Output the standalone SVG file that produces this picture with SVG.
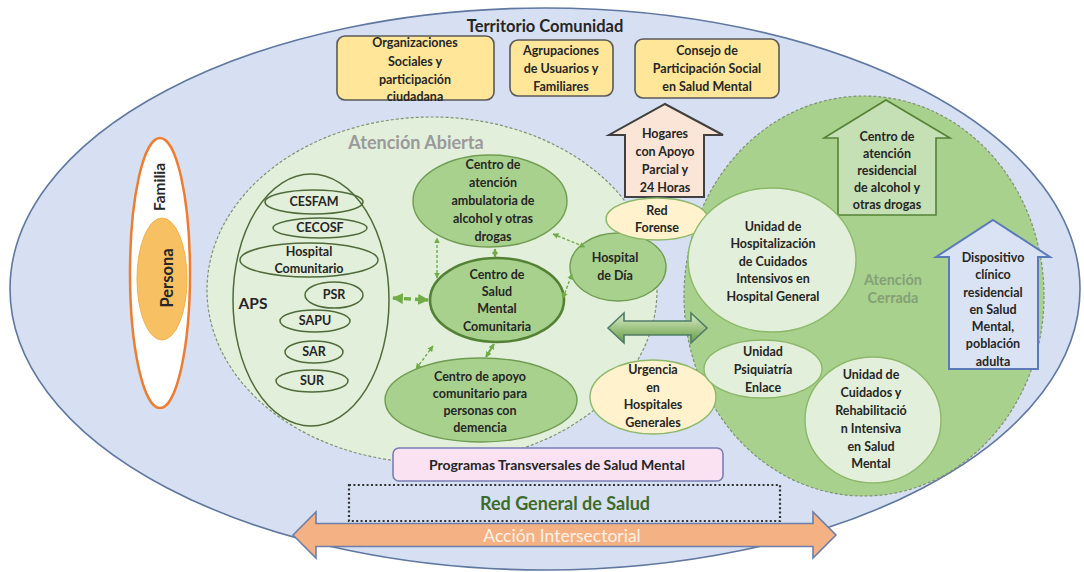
<svg xmlns="http://www.w3.org/2000/svg" width="1084" height="572" viewBox="0 0 1084 572">
  <defs>
    <style>
      text { font-family: Lato, "Open Sans", "Liberation Sans", sans-serif; font-weight: bold; fill: #262626; text-anchor: middle; font-size: 12.5px; }
      .title { font-size: 16.5px; }
      .zone-label { font-size: 18px; fill: #9a9a9a; }
      .closed-label { font-size: 14.5px; fill: #84a075; }
      .aps-label { font-size: 15.5px; }
      .rot-fam { font-size: 15.5px; }
      .rot-per { font-size: 16.5px; }
      .prog { font-size: 14px; }
      .red { font-size: 18px; fill: #3d6b2a; }
      .accion { font-size: 17.5px; font-weight: normal; fill: #fdf1e7; }
      .box { fill: #ffe699; stroke: #595959; stroke-width: 1.6; }
      .mid { fill: #a9d18e; stroke: #6f9c52; stroke-width: 1.4; }
      .pale { fill: #e2efda; stroke: #8cb86a; stroke-width: 1.4; }
      .cream { fill: #fff2cc; stroke: #8cb86a; stroke-width: 1.4; }
      .aps { fill: none; stroke: #4f6b3a; stroke-width: 1.5; }
      .zone { stroke: #7f9270; stroke-width: 1.2; stroke-dasharray: 3 2; }
      .dash { fill: none; stroke: #70ad47; stroke-width: 1.4; stroke-dasharray: 3 2; }
      .solid { fill: none; stroke: #70ad47; stroke-width: 2.2; }
    </style>
    <marker id="ah" viewBox="0 0 10 10" refX="9" refY="5" markerUnits="userSpaceOnUse" markerWidth="6" markerHeight="6" orient="auto-start-reverse">
      <path d="M0,0 L10,5 L0,10 z" fill="#70ad47"/>
    </marker>
    <marker id="ahBig" viewBox="0 0 10 10" refX="9" refY="5" markerUnits="userSpaceOnUse" markerWidth="11" markerHeight="11" orient="auto-start-reverse">
      <path d="M0,0 L10,5 L0,10 z" fill="#70ad47"/>
    </marker>
    <linearGradient id="gLink" x1="0" y1="0" x2="0" y2="1">
      <stop offset="0" stop-color="#d9edc9"/>
      <stop offset="1" stop-color="#679c43"/>
    </linearGradient>
  </defs>

  <!-- community territory -->
  <g id="territorio">
    <ellipse cx="545" cy="289" rx="535" ry="281" fill="#d6e0f2" stroke="#60779f" stroke-width="1.6"/>
    <text class="title" x="545" y="32">Territorio Comunidad</text>
  </g>

  <g id="organizaciones">
    <rect class="box" x="337" y="36" width="157" height="64" rx="8"/>
    <text x="415" y="47">Organizaciones</text>
    <text x="415" y="66">Sociales y</text>
    <text x="415" y="84">participación</text>
    <text x="415" y="101">ciudadana</text>
  </g>
  <g id="agrupaciones">
    <rect class="box" x="510" y="40" width="103" height="56" rx="8"/>
    <text x="561" y="55">Agrupaciones</text>
    <text x="561" y="73">de Usuarios y</text>
    <text x="561" y="91">Familiares</text>
  </g>
  <g id="consejo">
    <rect class="box" x="635" y="39" width="144" height="59" rx="8"/>
    <text x="707" y="55">Consejo de</text>
    <text x="707" y="73">Participación Social</text>
    <text x="707" y="91">en Salud Mental</text>
  </g>

  <!-- open care zone -->
  <g id="atencion-abierta">
    <ellipse class="zone" cx="432" cy="290" rx="225" ry="173" fill="#e2efda"/>
    <text class="zone-label" x="416" y="149">Atención Abierta</text>
  </g>

  <!-- closed care zone -->
  <g id="atencion-cerrada">
    <ellipse class="zone" cx="864" cy="296" rx="180" ry="200" fill="#a9d18e"/>
    <text class="closed-label" x="893" y="285">Atención</text>
    <text class="closed-label" x="893" y="303">Cerrada</text>
  </g>

  <g id="hogares">
    <path d="M665,104 L723,135 L704,135 L704,197 L625,197 L625,135 L609,135 Z" fill="#fbe5d6" stroke="#404040" stroke-width="2"/>
    <text x="665" y="138">Hogares</text>
    <text x="665" y="156">con Apoyo</text>
    <text x="665" y="174">Parcial y</text>
    <text x="665" y="192">24 Horas</text>
  </g>

  <g id="centro-residencial">
    <path d="M886,100 L950,138 L936,138 L936,215 L838,215 L838,138 L824,138 Z" fill="#c5e0b4" stroke="#548235" stroke-width="1.6"/>
    <text x="887" y="141">Centro de</text>
    <text x="887" y="158">atención</text>
    <text x="887" y="175">residencial</text>
    <text x="887" y="192">de alcohol y</text>
    <text x="887" y="209">otras drogas</text>
  </g>

  <g id="dispositivo">
    <path d="M993,220 L1050,257 L1038,257 L1038,369 L949,369 L949,257 L936,257 Z" fill="#dae3f3" stroke="#5b7bb8" stroke-width="2"/>
    <text x="993" y="262">Dispositivo</text>
    <text x="993" y="279">clínico</text>
    <text x="993" y="297">residencial</text>
    <text x="993" y="314">en Salud</text>
    <text x="993" y="331">Mental,</text>
    <text x="993" y="348">población</text>
    <text x="993" y="366">adulta</text>
  </g>

  <!-- person and family -->
  <g id="familia">
    <ellipse cx="160" cy="273" rx="30" ry="135" fill="#ffffff" stroke="#ed7d31" stroke-width="2.5"/>
    <text class="rot-fam" transform="translate(165,187) rotate(-90)">Familia</text>
  </g>
  <g id="persona">
    <ellipse cx="162" cy="279" rx="25" ry="61" fill="#f7c063" stroke="#f3b04a" stroke-width="1"/>
    <text class="rot-per" transform="translate(173,278) rotate(-90)">Persona</text>
  </g>

  <!-- primary care -->
  <g id="aps">
    <ellipse class="aps" cx="311" cy="300" rx="78" ry="126"/>
    <text class="aps-label" x="253" y="309">APS</text>
  </g>
  <g id="cesfam">
    <ellipse class="aps" cx="314" cy="202" rx="49" ry="12"/>
    <text x="314" y="206">CESFAM</text>
  </g>
  <g id="cecosf">
    <ellipse class="aps" cx="320" cy="228" rx="47" ry="10"/>
    <text x="320" y="232">CECOSF</text>
  </g>
  <g id="hospital-comunitario">
    <ellipse class="aps" cx="309" cy="260" rx="69" ry="17"/>
    <text x="309" y="256">Hospital</text>
    <text x="309" y="273">Comunitario</text>
  </g>
  <g id="psr">
    <ellipse class="aps" cx="334" cy="295" rx="29" ry="13"/>
    <text x="334" y="299">PSR</text>
  </g>
  <g id="sapu">
    <ellipse class="aps" cx="315" cy="321" rx="35" ry="11"/>
    <text x="315" y="325">SAPU</text>
  </g>
  <g id="sar">
    <ellipse class="aps" cx="314" cy="352" rx="29" ry="11"/>
    <text x="314" y="356">SAR</text>
  </g>
  <g id="sur">
    <ellipse class="aps" cx="312" cy="381" rx="36" ry="11"/>
    <text x="312" y="385">SUR</text>
  </g>

  <!-- open care services -->
  <g id="centro-ambulatorio">
    <ellipse class="mid" cx="490" cy="201" rx="77" ry="46"/>
    <text x="493" y="169">Centro de</text>
    <text x="493" y="187">atención</text>
    <text x="493" y="205">ambulatoria de</text>
    <text x="493" y="223">alcohol y otras</text>
    <text x="493" y="241">drogas</text>
  </g>
  <g id="csmc">
    <ellipse cx="497" cy="300" rx="67" ry="42" fill="#a9d18e" stroke="#548235" stroke-width="2.6"/>
    <text x="497" y="279">Centro de</text>
    <text x="497" y="296">Salud</text>
    <text x="497" y="313">Mental</text>
    <text x="497" y="331">Comunitaria</text>
  </g>
  <g id="hospital-dia">
    <ellipse class="mid" cx="618" cy="267" rx="48" ry="34"/>
    <text x="615" y="262">Hospital</text>
    <text x="615" y="280">de Día</text>
  </g>
  <g id="centro-demencia">
    <ellipse class="mid" cx="481" cy="400" rx="96" ry="42"/>
    <text x="480" y="381">Centro de apoyo</text>
    <text x="480" y="398">comunitario para</text>
    <text x="480" y="415">personas con</text>
    <text x="480" y="432">demencia</text>
  </g>
  <g id="red-forense">
    <ellipse class="cream" cx="657" cy="219" rx="51" ry="21"/>
    <text x="657" y="215">Red</text>
    <text x="657" y="232">Forense</text>
  </g>
  <g id="urgencia">
    <ellipse class="cream" cx="653" cy="397" rx="63" ry="37"/>
    <text x="653" y="374">Urgencia</text>
    <text x="653" y="392">en</text>
    <text x="653" y="409">Hospitales</text>
    <text x="653" y="427">Generales</text>
  </g>

  <!-- closed care services -->
  <g id="unidad-hospitalizacion">
    <ellipse class="pale" cx="772" cy="260" rx="84" ry="72"/>
    <text x="773" y="231">Unidad de</text>
    <text x="773" y="248">Hospitalización</text>
    <text x="773" y="266">de Cuidados</text>
    <text x="773" y="283">Intensivos en</text>
    <text x="773" y="301">Hospital General</text>
  </g>
  <g id="psiquiatria-enlace">
    <ellipse class="pale" cx="763" cy="369" rx="59" ry="29"/>
    <text x="763" y="356">Unidad</text>
    <text x="763" y="374">Psiquiatría</text>
    <text x="763" y="392">Enlace</text>
  </g>
  <g id="unidad-cuidados">
    <ellipse class="pale" cx="873" cy="420" rx="68" ry="63"/>
    <text x="871" y="379">Unidad de</text>
    <text x="871" y="397">Cuidados y</text>
    <text x="871" y="415">Rehabilitació</text>
    <text x="871" y="433">n Intensiva</text>
    <text x="871" y="451">en Salud</text>
    <text x="871" y="468">Mental</text>
  </g>

  <!-- links between services -->
  <g id="connectors">
    <path class="dash" d="M437,278 L437,238" marker-start="url(#ah)" marker-end="url(#ah)"/>
    <path class="solid" d="M495,249 L495,257" marker-start="url(#ah)" marker-end="url(#ah)"/>
    <path class="dash" d="M553,234 L585,247" marker-start="url(#ah)" marker-end="url(#ah)"/>
    <path class="dash" d="M563,298 L572,274" marker-start="url(#ah)" marker-end="url(#ah)"/>
    <path class="dash" d="M433,346 L416,369" marker-start="url(#ah)" marker-end="url(#ah)"/>
    <path class="solid" d="M494,344 L486,357" marker-start="url(#ah)" marker-end="url(#ah)"/>
    <path d="M393,298 L428,300" fill="none" stroke="#70ad47" stroke-width="3.5" stroke-dasharray="7 4" marker-start="url(#ahBig)" marker-end="url(#ahBig)"/>
    <path d="M608,328 L624,313 L624,321 L691,321 L691,313 L707,328 L691,343 L691,335 L624,335 L624,343 Z" fill="url(#gLink)" stroke="#4f7c6a" stroke-width="1.6"/>
  </g>

  <g id="programas">
    <rect x="393" y="448" width="330" height="33" rx="6" fill="#fbe2f3" stroke="#7a7fb4" stroke-width="1.6"/>
    <text class="prog" x="557" y="470">Programas Transversales de Salud Mental</text>
  </g>

  <g id="red-general">
    <rect x="349" y="485" width="431" height="36" fill="none" stroke="#333333" stroke-width="2.2" stroke-dasharray="2 2.4"/>
    <text class="red" x="565" y="510">Red General de Salud</text>
  </g>

  <g id="accion-intersectorial">
    <path d="M293,535 L316,512 L316,523.5 L813,523.5 L813,512 L836,535 L813,558 L813,546.5 L316,546.5 L316,558 Z" fill="#f4b183" stroke="#6d7fa8" stroke-width="1.6"/>
    <text class="accion" x="562" y="542">Acción Intersectorial</text>
  </g>
</svg>
